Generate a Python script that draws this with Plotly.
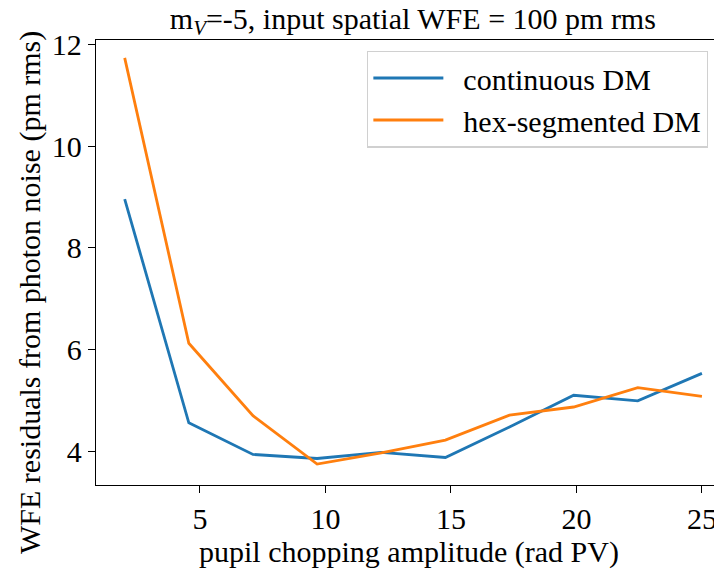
import numpy as np
import plotly.graph_objects as go

amplitude = [2.0, 4.556, 7.111, 9.667, 12.222, 14.778, 17.333, 19.889, 22.444, 25.0]
continuous_dm = [8.96, 4.57, 3.95, 3.87, 3.99, 3.89, 4.49, 5.11, 5.00, 5.54]
hex_segmented_dm = [11.73, 6.13, 4.71, 3.76, 3.98, 4.23, 4.72, 4.88, 5.26, 5.09]
series_names = ["continuous DM", "hex-segmented DM"]
x_ticks = [5, 10, 15, 20, 25]
y_ticks = [4, 6, 8, 10, 12]

FONT = "Liberation Serif"
FS = 30
PAD = "\u00a0\u00a0"

fig = go.Figure()
fig.add_trace(go.Scatter(x=amplitude, y=continuous_dm, mode="lines", name=PAD + series_names[0],
                         line=dict(color="#1f77b4", width=2.8)))
fig.add_trace(go.Scatter(x=amplitude, y=hex_segmented_dm, mode="lines", name=PAD + series_names[1],
                         line=dict(color="#ff7f0e", width=2.8)))

# the page body has an 8px margin: the figure is shrunk by 8px so the plot area lands
# at x 96..722, y 40..485 of the window
fig.update_layout(
    width=714, height=563,
    margin=dict(l=88, r=0, t=32, b=86),
    plot_bgcolor="white", paper_bgcolor="white",
    font=dict(family=FONT, size=FS, color="black"),
    title=dict(text="m<sub><i>V</i></sub>=-5, input spatial WFE = 100 pm rms",
               x=0.567, xanchor="center", y=0.981, yanchor="middle",
               font=dict(family=FONT, size=FS, color="black")),
    showlegend=True,
    legend=dict(x=0.433, y=0.976, xanchor="left", yanchor="top",
                bgcolor="rgba(255,255,255,0.8)", bordercolor="#d0d0d0", borderwidth=1.3,
                font=dict(family=FONT, size=FS, color="black"),
                itemwidth=70, tracegroupgap=0),
    xaxis=dict(range=[0.857, 25.8], tickvals=x_ticks, showgrid=False, zeroline=False,
               automargin=False,
               showline=True, linecolor="black", linewidth=1.3, mirror=True,
               ticks="outside", ticklen=7, tickwidth=1.3, tickcolor="black",
               tickfont=dict(family=FONT, size=FS),
               title=dict(text="pupil chopping amplitude (rad PV)", standoff=2,
                          font=dict(family=FONT, size=FS))),
    yaxis=dict(range=[3.35, 12.08], tickvals=y_ticks, showgrid=False, zeroline=False,
               automargin=False,
               showline=True, linecolor="black", linewidth=1.3, mirror=False,
               ticks="outside", ticklen=7, tickwidth=1.3, tickcolor="black",
               tickfont=dict(family=FONT, size=FS)),
    annotations=[dict(text="WFE residuals from photon noise (pm rms)", textangle=-90,
                      xref="paper", yref="paper", x=-0.1054, y=0.4315,
                      xanchor="center", yanchor="middle", showarrow=False,
                      font=dict(family=FONT, size=FS, color="black"))],
)

fig.write_html("out.html")
